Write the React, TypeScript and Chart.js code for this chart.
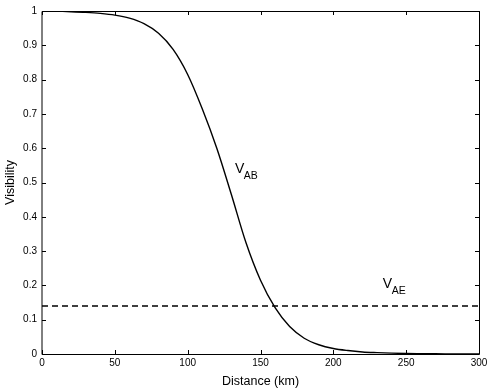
import React, { useEffect, useRef } from 'react';
import { Chart, registerables } from 'chart.js';

Chart.register(...registerables);

// Data
const distanceKm = [0, 10, 20, 30, 40, 50, 60, 70, 80, 90, 100, 110, 120, 130, 140, 150, 160, 170, 180, 190, 200, 210, 220, 230, 240, 250, 260, 270, 280, 290, 300];
const visibilityAB = [1.0, 0.9995, 0.998, 0.996, 0.993, 0.988, 0.979, 0.963, 0.935, 0.888, 0.815, 0.715, 0.6, 0.465, 0.325, 0.215, 0.135, 0.08, 0.046, 0.027, 0.016, 0.01, 0.006, 0.004, 0.0025, 0.0015, 0.001, 0.0006, 0.0004, 0.0002, 0.0001];
const aeDistance = [0, 300];
const visibilityAE = [0.14, 0.14];

const xTickValues = [0, 50, 100, 150, 200, 250, 300];
const yTickValues = [0, 0.1, 0.2, 0.3, 0.4, 0.5, 0.6, 0.7, 0.8, 0.9, 1];

const curveLabels = [
  { main: 'V', sub: 'AB', x: 132.5, y: 0.528 },
  { main: 'V', sub: 'AE', x: 234, y: 0.191 },
];

const FONT = '"Liberation Sans", Arial, Helvetica, sans-serif';

const boxAndTicks = {
  id: 'boxAndTicks',
  afterDatasetsDraw(chart: any) {
    const { ctx, chartArea, scales } = chart;
    const { left, right, top, bottom } = chartArea;
    const xs = scales.x;
    const ys = scales.y;
    const tl = 4;
    ctx.save();
    ctx.strokeStyle = '#000';
    ctx.lineWidth = 1;
    ctx.beginPath();
    for (const v of xTickValues) {
      const px = Math.round(xs.getPixelForValue(v)) + 0.5;
      ctx.moveTo(px, bottom);
      ctx.lineTo(px, bottom - tl);
      ctx.moveTo(px, top);
      ctx.lineTo(px, top + tl);
    }
    for (const v of yTickValues) {
      const py = Math.round(ys.getPixelForValue(v)) + 0.5;
      ctx.moveTo(left, py);
      ctx.lineTo(left + tl, py);
      ctx.moveTo(right, py);
      ctx.lineTo(right - tl, py);
    }
    ctx.stroke();
    // box
    ctx.beginPath();
    const t = Math.round(top) + 0.5;
    const b = Math.round(bottom) + 0.5;
    const r = Math.round(right) + 0.5;
    const l = Math.round(left);
    ctx.moveTo(l, t);
    ctx.lineTo(r, t);
    ctx.lineTo(r, b);
    ctx.lineTo(l, b);
    ctx.closePath();
    ctx.stroke();
    // labels
    ctx.fillStyle = '#000';
    ctx.textBaseline = 'alphabetic';
    ctx.textAlign = 'left';
    for (const lab of curveLabels) {
      const px = xs.getPixelForValue(lab.x);
      const py = ys.getPixelForValue(lab.y);
      ctx.font = `14px ${FONT}`;
      ctx.fillText(lab.main, px, py);
      const w = ctx.measureText(lab.main).width;
      ctx.font = `10.5px ${FONT}`;
      ctx.fillText(lab.sub, px + w - 0.5, py + 6);
    }
    ctx.restore();
  },
};

export default function App() {
  const ref = useRef<HTMLCanvasElement | null>(null);
  useEffect(() => {
    if (!ref.current) return;
    const chart = new Chart(ref.current, {
      type: 'line',
      data: {
        datasets: [
          {
            label: 'V_AB',
            data: distanceKm.map((d, i) => ({ x: d, y: visibilityAB[i] })),
            borderColor: '#000',
            borderWidth: 1.4,
            pointRadius: 0,
            cubicInterpolationMode: 'monotone',
            fill: false,
          },
          {
            label: 'V_AE',
            data: aeDistance.map((d, i) => ({ x: d, y: visibilityAE[i] })),
            borderColor: '#000',
            borderWidth: 1.5,
            borderDash: [6, 4],
            pointRadius: 0,
            fill: false,
          },
        ],
      },
      options: {
        responsive: false,
        animation: false,
        layout: { padding: { top: 9, right: 12, left: 0, bottom: 0 } },
        plugins: {
          legend: { display: false },
          tooltip: { enabled: false },
        },
        scales: {
          x: {
            type: 'linear',
            min: 0,
            max: 300,
            afterBuildTicks: (s: any) => {
              s.ticks = xTickValues.map((v) => ({ value: v }));
            },
            afterFit: (s: any) => {
              s.height = 38;
            },
            grid: { display: false, drawTicks: false },
            border: { display: false },
            ticks: {
              color: '#000',
              font: { family: FONT, size: 10 },
              padding: 3,
              maxRotation: 0,
              callback: (v: any) => String(v),
            },
            title: {
              display: true,
              text: 'Distance (km)',
              color: '#000',
              font: { family: FONT, size: 12.5 },
              padding: { top: 0, bottom: 3 },
            },
          },
          y: {
            type: 'linear',
            min: 0,
            max: 1,
            afterBuildTicks: (s: any) => {
              s.ticks = yTickValues.map((v) => ({ value: v }));
            },
            afterFit: (s: any) => {
              s.width = 42;
            },
            grid: { display: false, drawTicks: false },
            border: { display: false },
            ticks: {
              color: '#000',
              font: { family: FONT, size: 10 },
              padding: 5,
              callback: (v: any) => String(Number(Number(v).toFixed(1))),
            },
            title: {
              display: true,
              text: 'Visibility',
              color: '#000',
              font: { family: FONT, size: 12.5 },
              padding: { top: 3, bottom: 0 },
            },
          },
        },
      },
      plugins: [boxAndTicks],
    } as any);
    return () => chart.destroy();
  }, []);
  return (
    <div style={{ position: 'fixed', left: 0, top: 0, width: 491, height: 392, background: '#fff' }}>
      <canvas ref={ref} width={491} height={392} style={{ display: 'block' }} />
    </div>
  );
}
